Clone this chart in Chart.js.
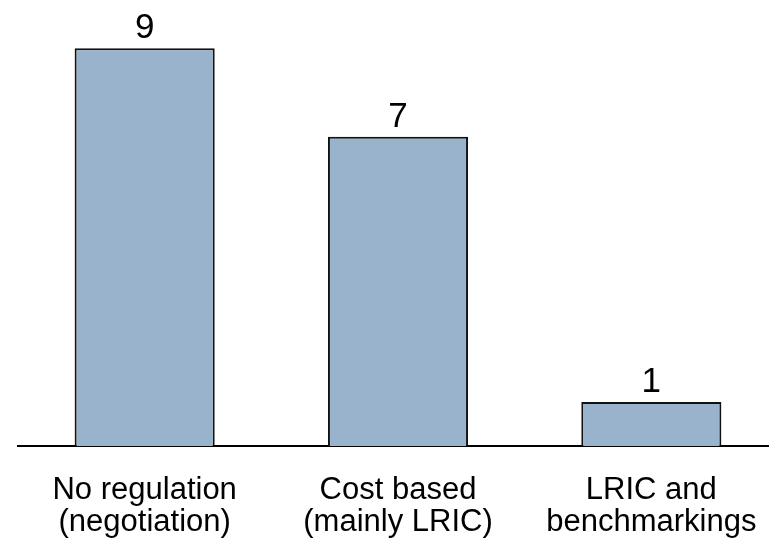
<!DOCTYPE html>
<html>
<head>
<meta charset="utf-8">
<script src="https://cdn.jsdelivr.net/npm/chart.js@4"></script>
<style>
  html, body { margin: 0; padding: 0; background: #fff; overflow: hidden; }
  #wrap { width: 769px; height: 543px; overflow: hidden; }
</style>
</head>
<body>
<div id="wrap"><canvas id="c" width="778" height="565"></canvas></div>
<script>
// Regulation approach and number of countries applying it
const categories = [
  ["No regulation", "(negotiation)"],
  ["Cost based", "(mainly LRIC)"],
  ["LRIC and", "benchmarkings"]
];
const countries = [9, 7, 1];

const FONT = "'Liberation Sans', Arial, sans-serif";

// Writes each bar's value just above it
const valueLabels = {
  id: "valueLabels",
  afterDatasetsDraw(chart) {
    const ctx = chart.ctx;
    const meta = chart.getDatasetMeta(0);
    ctx.save();
    ctx.fillStyle = "#000";
    ctx.font = "35px " + FONT;
    ctx.textAlign = "center";
    ctx.textBaseline = "alphabetic";
    meta.data.forEach((bar, i) => {
      ctx.fillText(String(countries[i]), bar.x, bar.y - 10);
    });
    ctx.restore();
  }
};

new Chart(document.getElementById("c"), {
  type: "bar",
  data: {
    labels: categories,
    datasets: [{
      data: countries,
      backgroundColor: "#98b3cb",
      borderColor: "#111",
      borderWidth: 2,
      barPercentage: 0.553,
      categoryPercentage: 1
    }]
  },
  options: {
    responsive: false,
    animation: false,
    layout: { padding: { left: 18, right: 0, top: 4, bottom: 7 } },
    plugins: { legend: { display: false }, tooltip: { enabled: false } },
    scales: {
      x: {
        grid: { display: false },
        border: { display: true, color: "#000", width: 2 },
        ticks: {
          color: "#000",
          padding: 20,
          maxRotation: 0,
          autoSkip: false,
          font: { family: FONT, size: 31, lineHeight: 1.03 }
        }
      },
      y: {
        display: false,
        min: 0,
        max: 10
      }
    }
  },
  plugins: [valueLabels]
});
</script>
</body>
</html>
